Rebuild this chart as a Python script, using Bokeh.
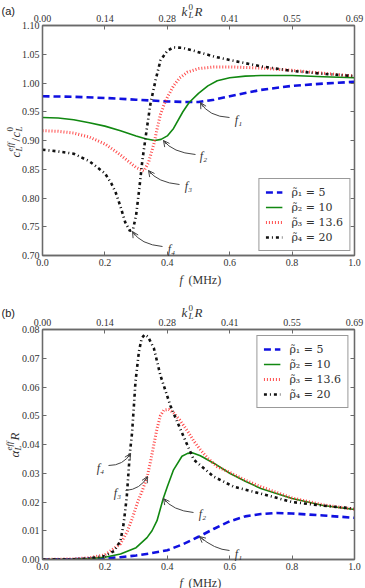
import math

from bokeh.core.properties import value
from bokeh.embed import file_html
from bokeh.layouts import column
from bokeh.models import (Arrow, CustomJSTickFormatter, FixedTicker, Legend,
                          LegendItem, LinearAxis, OpenHead,
                          PrintfTickFormatter, Range1d)
from bokeh.plotting import figure
from bokeh.resources import INLINE

# ---------------------------------------------------------------------------
# (a) effective phase velocity c_L^eff / c_L^0 versus frequency
# ---------------------------------------------------------------------------
f_c1 = [0, 0.1, 0.2, 0.3, 0.4, 0.45, 0.5, 0.55, 0.6, 0.7, 0.8, 0.9, 1.0]
c1 = [0.977, 0.976, 0.974, 0.971, 0.968, 0.967, 0.967, 0.971, 0.977, 0.988,
      0.995, 0.999, 1.002]

f_c2 = [0, 0.05, 0.1, 0.15, 0.2, 0.25, 0.3, 0.33, 0.36, 0.38, 0.40, 0.42,
        0.45, 0.47, 0.5, 0.53, 0.56, 0.6, 0.65, 0.7, 0.8, 0.9, 1.0]
c2 = [0.940, 0.939, 0.936, 0.931, 0.925, 0.917, 0.908, 0.903, 0.900, 0.902,
      0.908, 0.921, 0.950, 0.966, 0.982, 0.995, 1.004, 1.009, 1.012, 1.013,
      1.013, 1.011, 1.009]

f_c3 = [0, 0.05, 0.1, 0.15, 0.2, 0.24, 0.27, 0.30, 0.325, 0.34, 0.357, 0.368,
        0.378, 0.39, 0.40, 0.42, 0.44, 0.465, 0.5, 0.55, 0.6, 0.7, 0.8, 0.9,
        1.0]
c3 = [0.917, 0.916, 0.913, 0.906, 0.894, 0.879, 0.866, 0.853, 0.847, 0.862,
      0.894, 0.922, 0.945, 0.963, 0.975, 0.995, 1.009, 1.019, 1.025, 1.028,
      1.028, 1.026, 1.022, 1.017, 1.012]

f_c4 = [0, 0.05, 0.1, 0.15, 0.2, 0.22, 0.235, 0.25, 0.265, 0.28, 0.29, 0.3,
        0.31, 0.32, 0.335, 0.346, 0.362, 0.378, 0.4, 0.42, 0.45, 0.485, 0.55,
        0.6, 0.7, 0.8, 0.9, 1.0]
c4 = [0.884, 0.881, 0.877, 0.864, 0.843, 0.826, 0.809, 0.785, 0.758, 0.743,
      0.745, 0.770, 0.815, 0.865, 0.923, 0.964, 1.004, 1.039, 1.056, 1.062,
      1.061, 1.056, 1.046, 1.040, 1.029, 1.021, 1.016, 1.012]

# ---------------------------------------------------------------------------
# (b) normalised attenuation alpha_L^eff R versus frequency
# ---------------------------------------------------------------------------
f_a1 = [0, 0.1, 0.2, 0.25, 0.3, 0.35, 0.4, 0.45, 0.5, 0.55, 0.6, 0.65, 0.7,
        0.75, 0.8, 0.9, 1.0]
a1 = [0, 0.0001, 0.0004, 0.0008, 0.0014, 0.0022, 0.0032, 0.0053, 0.0079,
      0.0107, 0.0133, 0.0150, 0.0158, 0.0162, 0.0160, 0.0153, 0.0145]

f_a2 = [0, 0.1, 0.15, 0.2, 0.25, 0.3, 0.335, 0.351, 0.367, 0.387, 0.4, 0.42,
        0.447, 0.465, 0.48, 0.506, 0.549, 0.6, 0.65, 0.7, 0.8, 0.9, 1.0]
a2 = [0, 0.0001, 0.0003, 0.0008, 0.0019, 0.0041, 0.0076, 0.0100, 0.0135,
      0.0212, 0.0253, 0.0312, 0.0359, 0.0369, 0.0371, 0.0361, 0.0335, 0.0300,
      0.0272, 0.0247, 0.0212, 0.0188, 0.0174]

f_a3 = [0, 0.1, 0.15, 0.2, 0.25, 0.272, 0.29, 0.303, 0.32, 0.336, 0.347,
        0.357, 0.367, 0.378, 0.389, 0.405, 0.42, 0.44, 0.464, 0.485, 0.506,
        0.53, 0.56, 0.6, 0.65, 0.7, 0.8, 0.9, 1.0]
a3 = [0, 0.0002, 0.0006, 0.0016, 0.0055, 0.0098, 0.0150, 0.0194, 0.0240,
      0.0290, 0.0345, 0.0400, 0.0455, 0.0500, 0.0520, 0.0522, 0.0510, 0.0485,
      0.0448, 0.0412, 0.0382, 0.0352, 0.0323, 0.0303, 0.0276, 0.0253, 0.0214,
      0.0190, 0.0175]

f_a4 = [0, 0.1, 0.15, 0.2, 0.23, 0.25, 0.26, 0.27, 0.28, 0.287, 0.293, 0.298,
        0.309, 0.318, 0.328, 0.338, 0.357, 0.378, 0.41, 0.442, 0.485, 0.549,
        0.613, 0.7, 0.8, 0.9, 1.0]
a4 = [0, 0.0001, 0.0004, 0.0012, 0.0030, 0.0065, 0.0124, 0.0217, 0.0370,
      0.0440, 0.0535, 0.0618, 0.0723, 0.0770, 0.0782, 0.0775, 0.0735, 0.0640,
      0.0535, 0.0453, 0.0347, 0.0288, 0.0253, 0.0229, 0.0200, 0.0187, 0.0177]

# axis ticks
f_ticks = [0.0, 0.2, 0.4, 0.6, 0.8, 1.0]
k_tick_labels = ["0.00", "0.14", "0.28", "0.41", "0.55", "0.69"]
c_ticks = [0.70, 0.75, 0.80, 0.85, 0.90, 0.95, 1.00, 1.05, 1.10]
a_ticks = [0.00, 0.01, 0.02, 0.03, 0.04, 0.05, 0.06, 0.07, 0.08]
legend_labels = ["\u03c1\u0303\u2081 = 5", "\u03c1\u0303\u2082 = 10",
                 "\u03c1\u0303\u2083 = 13.6", "\u03c1\u0303\u2084 = 20"]

SERIF = "Liberation Serif"
TXT = "#333333"
AXC = "#6a6a6a"

STYLES = [
    dict(line_color="#1010e0", line_width=2.6, line_dash="7 4"),
    dict(line_color="#118811", line_width=1.6),
    dict(line_color="#ff2a2a", line_width=3.0, line_dash="1 2", line_alpha=0.85),
    dict(line_color="#111111", line_width=2.6, line_dash="3 3 1 3"),
]

W = 365
LEFT, RIGHT = 42, 11
FW, FH = 312, 230


def make_fig(height, top, y0, y1, y_ticks):
    p = figure(width=W, height=height, x_range=Range1d(0, 1),
               y_range=Range1d(y0, y1), output_backend="svg",
               toolbar_location=None, min_border_left=LEFT,
               min_border_right=RIGHT, min_border_top=top,
               min_border_bottom=height - top - FH)
    p.grid.visible = False
    p.outline_line_color = AXC
    p.outline_line_width = 1.3
    p.background_fill_color = "white"
    p.border_fill_color = "white"
    p.xaxis.ticker = FixedTicker(ticks=f_ticks)
    p.xaxis.formatter = PrintfTickFormatter(format="%.1f")
    p.yaxis.ticker = FixedTicker(ticks=y_ticks)
    p.yaxis.formatter = PrintfTickFormatter(format="%.2f")
    top_ax = LinearAxis(ticker=FixedTicker(ticks=f_ticks),
                        major_label_overrides={t: s for t, s in zip(f_ticks, k_tick_labels)})
    p.add_layout(top_ax, "above")
    right_ax = LinearAxis(ticker=FixedTicker(ticks=y_ticks),
                          formatter=CustomJSTickFormatter(code="return ''"))
    p.add_layout(right_ax, "right")
    for ax in p.axis:
        ax.axis_line_color = AXC
        ax.axis_line_width = 1.3
        ax.major_tick_line_color = AXC
        ax.major_tick_in = 4
        ax.major_tick_out = 0
        ax.minor_tick_in = 0
        ax.minor_tick_out = 0
        ax.major_label_text_font = SERIF
        ax.major_label_text_color = TXT
        ax.major_label_text_font_size = "10px"
        ax.major_label_standoff = 3
    top_ax.major_label_standoff = 4
    right_ax.major_label_standoff = 0
    return p


def put(p, x, y, text, size=12, style="normal", angle=0.0, font=SERIF,
        align="left", baseline="alphabetic", color=TXT):
    # text glyph on the overlay level so it may sit outside the frame
    p.text(x=[x], y=[y], text=[text], text_font=value(font),
           text_font_size=value(f"{size}px"), text_font_style=style,
           text_color=color, angle=angle, text_align=align,
           text_baseline=baseline, level="overlay")


def draw_curves(p, xs, ys, loc, margin):
    items = []
    for fx_, vy, st, lab in zip(xs, ys, STYLES, legend_labels):
        r = p.line(fx_, vy, **st)
        items.append(LegendItem(label=lab, renderers=[r]))
    leg = Legend(items=items, location=loc, margin=margin,
                 border_line_color="#333333", border_line_width=1.2,
                 background_fill_color="white", background_fill_alpha=1.0,
                 label_text_font="DejaVu Serif", label_text_font_size="11px",
                 label_text_color=TXT, glyph_width=17, glyph_height=14,
                 label_height=14, spacing=1, padding=6, label_standoff=9)
    p.add_layout(leg)


def callouts(p, sx, sy, notes):
    # notes: (label, label position, tail, control point, arrow head) in pixels
    for lab, lp, tail, ctrl, head in notes:
        put(p, sx(lp[0]), sy(lp[1]), lab, size=12, style="italic",
            align="center", baseline="middle")
        p.quadratic(x0=[sx(tail[0])], y0=[sy(tail[1])], x1=[sx(head[0])],
                    y1=[sy(head[1])], cx=[sx(ctrl[0])], cy=[sy(ctrl[1])],
                    line_color="#444444", line_width=1)
        bx = head[0] + 0.3 * (ctrl[0] - head[0])
        by = head[1] + 0.3 * (ctrl[1] - head[1])
        p.add_layout(Arrow(end=OpenHead(size=6, line_color="#444444", line_width=1),
                           x_start=sx(bx), y_start=sy(by), x_end=sx(head[0]),
                           y_end=sy(head[1]), line_color="#444444", line_width=1))


def fa(px):
    return (px - LEFT) / FW


R90 = math.pi / 2

# ----------------------------- panel (a) -----------------------------------
HA, TOPA = 290, 25
pa = make_fig(HA, TOPA, 0.70, 1.10, c_ticks)


def ya(py):
    return 1.10 - (py - TOPA) * 0.40 / FH


draw_curves(pa, [f_c1, f_c2, f_c3, f_c4], [c1, c2, c3, c4], "bottom_right", 4)

callouts(pa, fa, ya, [
    ("f\u2081", (238, 119), (229, 117), (208, 116), (200, 102)),
    ("f\u2082", (203, 155), (195, 154), (172, 152), (163, 140)),
    ("f\u2083", (188, 185), (179, 184), (157, 182), (148, 170)),
    ("f\u2084", (171, 248), (162, 246), (140, 244), (132, 231)),
])

# top axis title k_L^0 R
put(pa, fa(181), ya(11), "k", 13, "italic")
put(pa, fa(188), ya(6), "0", 9)
put(pa, fa(188), ya(14), "L", 9, "italic")
put(pa, fa(194), ya(11), "R", 13, "italic")
# bottom axis title
put(pa, fa(179), ya(279), "f", 12, "italic")
put(pa, fa(188), ya(279), "(MHz)", 12)
# left axis title c_L^eff / c_L^0, drawn bottom to top
put(pa, fa(15), ya(157), "c", 13, "italic", R90)
put(pa, fa(18), ya(151), "L", 9, "italic", R90)
put(pa, fa(9), ya(151), "eff", 9, "italic", R90)
put(pa, fa(15), ya(141), "/", 13, "normal", R90)
put(pa, fa(15), ya(137), "c", 13, "italic", R90)
put(pa, fa(18), ya(131), "L", 9, "italic", R90)
put(pa, fa(9), ya(131), "0", 9, "normal", R90)
# panel tag
put(pa, fa(1), ya(10), "(a)", 11, font="Liberation Sans", color="#222222")

# ----------------------------- panel (b) -----------------------------------
HB, TOPB = 298, 39
pb = make_fig(HB, TOPB, 0.0, 0.08, a_ticks)


def yb(py):
    # py measured on the full page; panel (b) starts 290 px down
    return 0.08 - (py - 290 - TOPB) * 0.08 / FH


draw_curves(pb, [f_a1, f_a2, f_a3, f_a4], [a1, a2, a3, a4], "top_right", 6)

callouts(pb, fa, yb, [
    ("f\u2081", (238, 553), (229, 550), (214, 549), (199, 536)),
    ("f\u2082", (202, 513), (193, 512), (172, 510), (163, 498)),
    ("f\u2083", (117, 492), (125, 490), (140, 489), (147, 476)),
    ("f\u2084", (100, 467), (108, 465), (123, 465), (130, 453)),
])

put(pb, fa(181), yb(312), "k", 13, "italic")
put(pb, fa(188), yb(307), "0", 9)
put(pb, fa(188), yb(315), "L", 9, "italic")
put(pb, fa(194), yb(312), "R", 13, "italic")
put(pb, fa(179), yb(582), "f", 12, "italic")
put(pb, fa(188), yb(582), "(MHz)", 12)
put(pb, fa(14), yb(457), "\u03b1", 13, "italic", R90)
put(pb, fa(17), yb(450), "L", 9, "italic", R90)
put(pb, fa(8), yb(450), "eff", 9, "italic", R90)
put(pb, fa(14), yb(440), "R", 13, "italic", R90)
put(pb, fa(1), yb(312), "(b)", 11, font="Liberation Sans", color="#222222")

layout = column(pa, pb, spacing=0)
open("out.html", "w").write(file_html(layout, INLINE))
